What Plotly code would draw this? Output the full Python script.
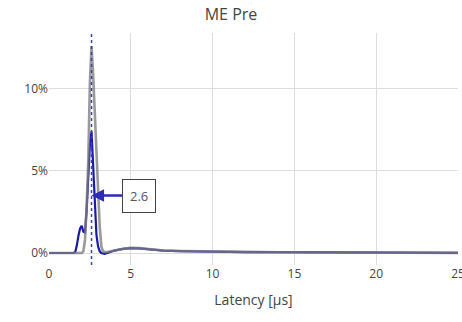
import plotly.graph_objects as go

# Latency distribution (fraction of events) for the two recordings
latency_blue = [0, 1.5, 1.6, 1.7, 1.8, 1.9, 2.0, 2.1, 2.2, 2.3, 2.4, 2.5, 2.6, 2.7, 2.8,
                2.9, 3.0, 3.1, 3.2, 3.4, 3.7, 4.0, 4.5, 5.0, 5.5, 6.0, 6.5, 7.0, 8.0,
                9.0, 10, 12, 14, 16, 18, 20, 22, 25]
share_blue = [0, 0, 0.05, 0.45, 1.05, 1.5, 1.65, 1.3, 1.25, 2.6, 4.6, 6.6, 7.4, 5.2, 2.8,
              1.1, 0.4, 0.1, 0.0, -0.05, 0.05, 0.15, 0.25, 0.3, 0.28, 0.22, 0.17, 0.14, 0.11,
              0.09, 0.08, 0.06, 0.05, 0.04, 0.03, 0.02, 0.015, 0.01]

latency_gray = [0, 2.0, 2.1, 2.2, 2.3, 2.4, 2.5, 2.6, 2.7, 2.8, 2.9, 3.0, 3.1, 3.2, 3.3,
                3.5, 3.7, 4.0, 4.5, 5.0, 5.5, 6.0, 6.5, 7.0, 8.0, 9.0, 10, 12, 14, 16,
                18, 20, 22, 25]
share_gray = [0, 0, 0.1, 0.8, 2.8, 5.6, 10.4, 12.6, 10.8, 8.4, 6.6, 4.3, 1.6, 0.4, 0.1,
              0.05, 0.08, 0.15, 0.25, 0.32, 0.3, 0.24, 0.18, 0.15, 0.12,
              0.1, 0.08, 0.07, 0.05, 0.04, 0.03, 0.02, 0.015, 0.01]

marker_latency = 2.6
marker_share = 3.5
x_ticks = [0, 5, 10, 15, 20, 25]

fig = go.Figure()
fig.add_trace(go.Scatter(
    x=latency_blue, y=[v / 100 for v in share_blue], mode="lines",
    line=dict(color="#1a1aa8", width=2.2), showlegend=False))
fig.add_trace(go.Scatter(
    x=latency_gray, y=[v / 100 for v in share_gray], mode="lines",
    line=dict(color="rgba(125,125,125,0.78)", width=2.6), showlegend=False))

fig.add_shape(type="line", x0=marker_latency, x1=marker_latency, xref="x",
              y0=0, y1=1, yref="paper",
              line=dict(color="#3b3bd0", width=1.5, dash="dot"))

fig.add_annotation(
    x=marker_latency, y=marker_share / 100, text=str(marker_latency),
    showarrow=True, arrowhead=2, arrowsize=1, arrowwidth=2.5, arrowcolor="#2b2bb8",
    ax=47, ay=0, bordercolor="#444", borderwidth=1, borderpad=7,
    bgcolor="white", font=dict(size=13, color="#555"))

fig.update_layout(
    width=462, height=322,
    margin=dict(l=49, r=4, t=33, b=57),
    paper_bgcolor="white", plot_bgcolor="white",
    font=dict(family="Open Sans", size=12, color="#444"),
    title=dict(text="ME Pre", x=0.5, xanchor="center", y=0.955, yanchor="middle",
               font=dict(size=16, color="#444")),
    xaxis=dict(range=[0, 25], tickvals=x_ticks, showgrid=True, gridcolor="#ddd",
               zeroline=False, showline=False, ticks="", automargin=False,
               ticklabeloverflow="allow",
               title=dict(text="Latency [µs]", font=dict(size=14), standoff=14)),
    yaxis=dict(range=[-0.0073, 0.134], dtick=0.05, tickformat=".0%", showgrid=True,
               gridcolor="#ddd", zeroline=True, zerolinecolor="#ddd", zerolinewidth=1,
               showline=False, ticks=""),
)

fig.write_html("out.html")
